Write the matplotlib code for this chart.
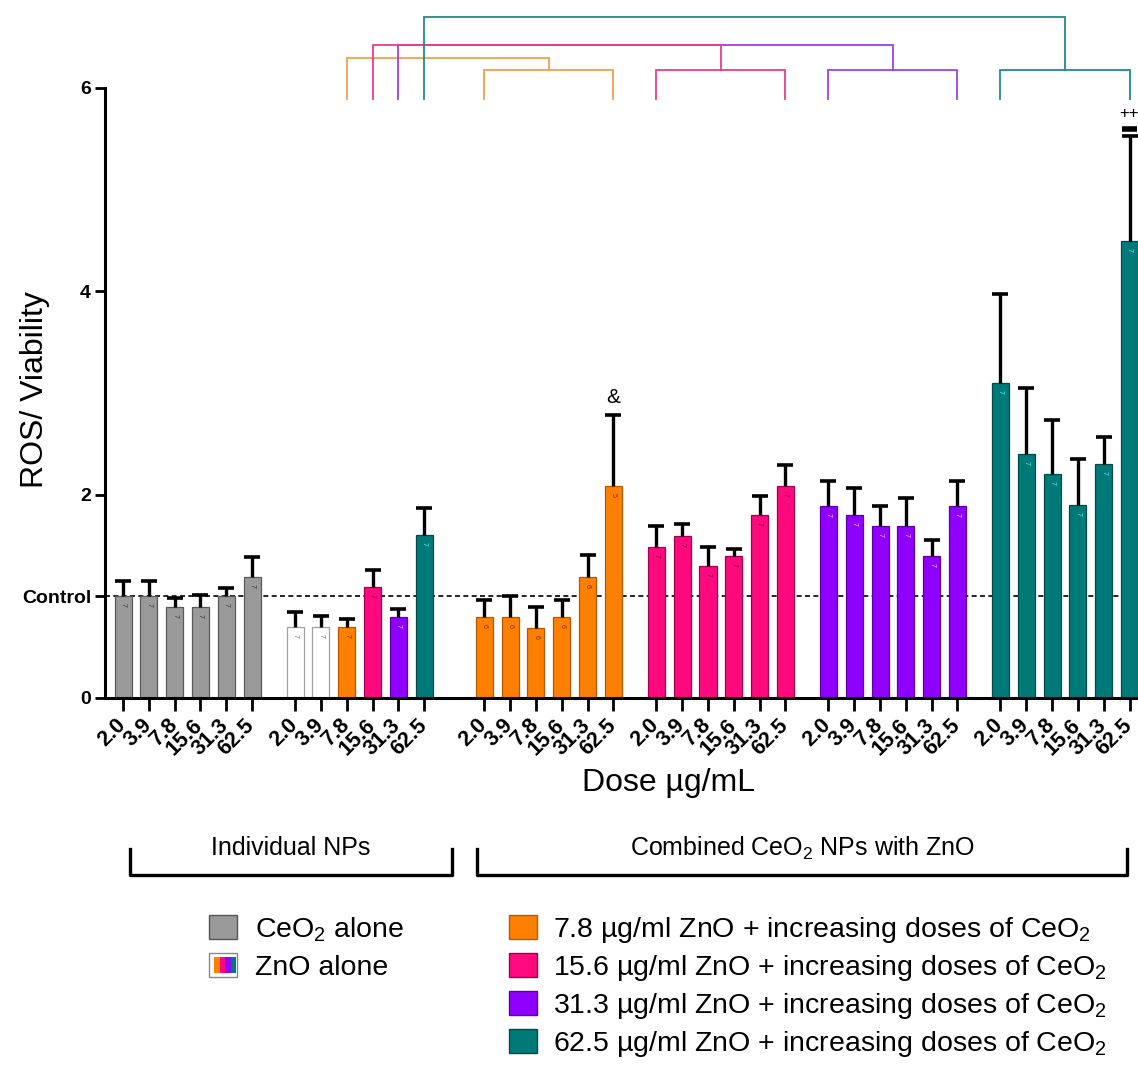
import numpy as np
import matplotlib
matplotlib.use('Agg')
import matplotlib.pyplot as plt
import matplotlib.transforms as mtransforms
from matplotlib.patches import Rectangle
from matplotlib.lines import Line2D
from matplotlib import font_manager

plt.rcParams['font.family'] = ['Liberation Sans', 'DejaVu Sans']
plt.rcParams['mathtext.fontset'] = 'custom'
plt.rcParams['mathtext.rm'] = 'Liberation Sans'
plt.rcParams['mathtext.it'] = 'Liberation Sans:italic'
plt.rcParams['mathtext.bf'] = 'Liberation Sans:bold'

# ---------------- data ----------------
doses = ['2.0', '3.9', '7.8', '15.6', '31.3', '62.5']

ceo2_alone = [1.00, 1.00, 0.90, 0.90, 1.00, 1.19]
ceo2_alone_err = [0.15, 0.15, 0.08, 0.11, 0.08, 0.20]
zno_alone = [0.70, 0.70, 0.70, 1.09, 0.80, 1.60]
zno_alone_err = [0.15, 0.11, 0.08, 0.17, 0.08, 0.27]
zno78 = [0.80, 0.80, 0.69, 0.80, 1.19, 2.09]
zno78_err = [0.16, 0.20, 0.21, 0.16, 0.22, 0.69]
zno156 = [1.49, 1.59, 1.30, 1.40, 1.80, 2.09]
zno156_err = [0.20, 0.12, 0.19, 0.07, 0.19, 0.20]
zno313 = [1.89, 1.80, 1.69, 1.69, 1.40, 1.89]
zno313_err = [0.24, 0.27, 0.20, 0.28, 0.15, 0.24]
zno625 = [3.10, 2.40, 2.20, 1.90, 2.30, 4.50]
zno625_err = [0.87, 0.65, 0.53, 0.45, 0.27, 1.03]

n_ceo2 = ['7', '7', '7', '7', '7', '7']
n_zno = ['7', '7', '7', '7', '7', '7']
n_78 = ['6', '6', '6', '6', '6', '5']
n_156 = ['7', '7', '7', '7', '7', '7']
n_313 = ['7', '7', '7', '7', '7', '7']
n_625 = ['7', '7', '7', '7', '7', '7']

GRAY = '#9a9a9a'
ORANGE = '#ff8000'
PINK = '#ff0a7e'
PURPLE = '#8f00ff'
TEAL = '#007a78'
WHITE = '#ffffff'

groups = [
    (ceo2_alone, ceo2_alone_err, [GRAY] * 6, ['#5a5a5a'] * 6, n_ceo2, ['#333333'] * 6),
    (zno_alone, zno_alone_err, [WHITE, WHITE, ORANGE, PINK, PURPLE, TEAL],
     ['#a0a0a0', '#a0a0a0', '#b35a00', '#a0004e', '#5a00a0', '#004a48'], n_zno,
     ['#777777', '#777777', '#7a2a00', '#700035', '#f0d0ff', '#40ffff']),
    (zno78, zno78_err, [ORANGE] * 6, ['#b35a00'] * 6, n_78, ['#7a2a00'] * 6),
    (zno156, zno156_err, [PINK] * 6, ['#a0004e'] * 6, n_156, ['#700035'] * 6),
    (zno313, zno313_err, [PURPLE] * 6, ['#5a00a0'] * 6, n_313, ['#f0d0ff'] * 6),
    (zno625, zno625_err, [TEAL] * 6, ['#004a48'] * 6, n_625, ['#40ffff'] * 6),
]

# layout of groups (slot units)
gaps = [1.667, 2.333, 1.667, 1.667, 1.667]
starts = [0.0]
for g in gaps:
    starts.append(starts[-1] + 5 + g)

fig = plt.figure(figsize=(11.38, 10.66), dpi=100)
W, H = 1138.0, 1066.0
ax = fig.add_axes([105 / W, 1 - 698 / H, (1138 - 105) / W, (698 - 88) / H])

bw = 0.66
all_x = []
all_lbl = []
for gi, (vals, errs, cols, ecols, ns, ncols) in enumerate(groups):
    x = starts[gi] + np.arange(6)
    ax.bar(x, vals, width=bw, color=cols, edgecolor=ecols, linewidth=0.9, zorder=2)
    eb = ax.errorbar(x, vals, yerr=[np.zeros(6), errs], fmt='none', ecolor='black',
                     elinewidth=2.4, capsize=5.5, capthick=2.6, zorder=3)
    # keep only the upper caps
    eb[1][0].set_visible(False)
    for xi, v, n, nc in zip(x, vals, ns, ncols):
        ax.text(xi, v - 0.07, n, rotation=-90, fontsize=5, ha='center', va='top',
                color=nc, zorder=4)
    all_x.extend(x)
    all_lbl.extend(doses)

# control line
ax.axhline(1.0, color='black', lw=1.2, ls=(0, (3, 2)), zorder=1)

ax.set_xlim(-0.70, 39.33)
ax.set_ylim(0, 6)
ax.tick_params(axis='x', length=9, width=2.0, pad=3)
ax.tick_params(axis='y', length=7, width=2.0, pad=3)
ax.set_yticks([0, 1, 2, 4, 6])
ax.set_yticklabels(['0', 'Control', '2', '4', '6'], fontsize=14, fontweight='bold')
ax.set_xticks(all_x)
ax.set_xticklabels(all_lbl, rotation=45, ha='right', va='top', rotation_mode='anchor',
                   fontsize=15.5, fontweight='bold')
shift = mtransforms.ScaledTranslation(-8 / 100.0, 0, fig.dpi_scale_trans)
for lab in ax.xaxis.get_majorticklabels():
    lab.set_transform(lab.get_transform() + shift)
for s in ['top', 'right']:
    ax.spines[s].set_visible(False)
for s in ['left', 'bottom']:
    ax.spines[s].set_linewidth(2.2)

# significance brackets above the plot
lvl_leg = 5.89
lvl_sub = 6.18
ind_x = starts[1] + np.arange(6)


def bracket(xl, xr, ytop, yl, yr, color):
    ax.plot([xl, xl, xr, xr], [yl, ytop, ytop, yr], color=color, lw=1.3,
            clip_on=False, zorder=5, solid_joinstyle='miter')


br_cols = {2: '#f2a04a', 3: '#ee3a8c', 4: '#a040e8', 5: '#218a8a'}
tops = {2: 6.30, 3: 6.42, 4: 6.42, 5: 6.70}
for gi in [2, 4, 3, 5]:
    s0 = starts[gi]
    c = br_cols[gi]
    bracket(s0, s0 + 5, lvl_sub, lvl_leg, lvl_leg, c)
    bracket(ind_x[gi], s0 + 2.5, tops[gi], lvl_leg, lvl_sub, c)

# annotations
ax.text(starts[2] + 5, 2.86, '&', ha='center', va='bottom', fontsize=15)
xl = starts[5] + 5
ax.plot([xl - 0.3, xl + 0.3], [5.60, 5.60], color='black', lw=4, clip_on=False,
        solid_capstyle='butt')
ax.text(xl - 0.02, 5.68, '++', ha='center', va='bottom', fontsize=12)

# axis titles
fig.text(669 / W, 1 - 783 / H, 'Dose µg/mL', ha='center', va='center', fontsize=23)
fig.text(35 / W, 1 - 390 / H, 'ROS/ Viability', ha='center', va='center',
         rotation=90, fontsize=23)

# group brackets under the axis
try:
    font_manager.findfont('Liberation Sans Narrow', fallback_to_default=False)
    nar = ['Liberation Sans Narrow', 'Liberation Sans']
    nsize = 22
except Exception:
    nar = ['Liberation Sans']
    nsize = 18


def fig_bracket(x1, x2, label):
    yb = 1 - 875 / H
    yt = 1 - 849 / H
    fig.add_artist(Line2D([x1 / W, x1 / W, x2 / W, x2 / W], [yt, yb, yb, yt],
                          color='black', lw=2.4, transform=fig.transFigure))
    fig.text((x1 + x2) / 2 / W, 1 - 848 / H, label, ha='center', va='center',
             fontsize=nsize, family=nar)


fig_bracket(130, 452, 'Individual NPs')
fig_bracket(477, 1127, 'Combined CeO$_2$ NPs with ZnO')

# legend (drawn manually)
def sq(xpx, ypx, color, edge):
    r = Rectangle((xpx / W, 1 - (ypx + 12) / H), 28 / W, 24 / H, facecolor=color,
                  edgecolor=edge, lw=1.0, transform=fig.transFigure)
    fig.add_artist(r)


rows = [927, 965, 1003, 1041]
FS = 20.5
sq(209, rows[0], GRAY, '#555555')
fig.text(255 / W, 1 - (rows[0] + 10) / H, 'CeO$_2$ alone', fontsize=FS, va='baseline')
# ZnO alone icon
sq(209, rows[1], WHITE, '#888888')
stripe_cols = [ORANGE, PINK, PURPLE, TEAL]
for i, c in enumerate(stripe_cols):
    fig.add_artist(Rectangle(((209 + 5 + i * 5.5) / W, 1 - (rows[1] + 8) / H),
                             5.5 / W, 16 / H, facecolor=c, edgecolor='none',
                             transform=fig.transFigure))
fig.text(255 / W, 1 - (rows[1] + 10) / H, 'ZnO alone', fontsize=FS, va='baseline')

leg_right = [(ORANGE, '#b35a00', '7.8'), (PINK, '#a0004e', '15.6'),
             (PURPLE, '#5a00a0', '31.3'), (TEAL, '#004a48', '62.5')]
for (c, e, d), ry in zip(leg_right, rows):
    sq(509, ry, c, e)
    fig.text(553 / W, 1 - (ry + 10) / H,
             d + ' µg/ml ZnO + increasing doses of CeO$_2$', fontsize=FS, va='baseline')

fig.savefig('out.png', dpi=100)
